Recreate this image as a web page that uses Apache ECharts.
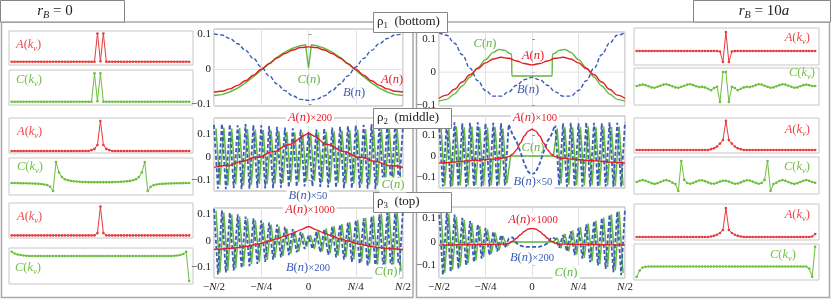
<!DOCTYPE html>
<html><head><meta charset="utf-8">
<script src="https://cdn.jsdelivr.net/npm/echarts@6/dist/echarts.min.js"></script>
<style>html,body{margin:0;padding:0;background:#fff}#c{width:831px;height:300px}</style>
</head><body><div id="c"></div>
<script>
const FONT = "'Liberation Serif','DejaVu Serif',serif";
const RED = '#e41e26', GREEN = '#62b840', BLUE = '#3b5cb8';
const KRED = '#e83a3a', KGREEN = '#6cbf3c';

// ---- categories / ticks ----
const xTickValues = [-48, -24, 0, 24, 48];
const xTickLabels = ['−N/2', '−N/4', '0', 'N/4', 'N/2'];
const yTickValues = [-0.1, 0, 0.1];
const yTickLabels = ['−0.1', '0', '0.1'];
const nStep4 = Array.from({length: 25}, (_, i) => -48 + 4 * i);
const nStep2 = Array.from({length: 49}, (_, i) => -48 + 2 * i);
const nOdd = Array.from({length: 48}, (_, i) => -47 + 2 * i);
const kIdx = Array.from({length: 61}, (_, i) => i);

// ---- row 1 (rho_1), r_B = 0 ----
const a1L = [-0.064,-0.062,-0.055,-0.045,-0.032,-0.016,0.001,0.017,0.033,0.046,0.056,0.063,0.065,0.063,0.056,0.046,0.033,0.017,0.001,-0.016,-0.032,-0.045,-0.055,-0.062,-0.064];
const b1L = [0.102,0.099,0.089,0.074,0.055,0.032,0.007,-0.018,-0.041,-0.060,-0.075,-0.085,-0.088,-0.085,-0.075,-0.060,-0.041,-0.018,0.007,0.032,0.055,0.074,0.089,0.099,0.102];
const c1Lx = [-48,-44,-40,-36,-32,-28,-24,-20,-16,-12,-8,-4,-1.5,0,1.5,4,8,12,16,20,24,28,32,36,40,44,48];
const c1Ly = [-0.074,-0.0715,-0.064,-0.053,-0.038,-0.020,-0.0015,0.017,0.035,0.050,0.061,0.0685,0.071,0.004,0.071,0.0685,0.061,0.050,0.035,0.017,-0.0015,-0.020,-0.038,-0.053,-0.064,-0.0715,-0.074];
// ---- row 1, r_B = 10a ----
const a1R = [-0.080,-0.070,-0.052,-0.030,-0.008,0.011,0.028,0.040,0.045,0.042,0.034,0.026,0.022,0.026,0.034,0.042,0.045,0.040,0.028,0.011,-0.008,-0.030,-0.052,-0.070,-0.080];
const b1R = [0.120,0.112,0.088,0.053,0.012,-0.026,-0.056,-0.073,-0.073,-0.060,-0.040,-0.023,-0.016,-0.023,-0.040,-0.060,-0.073,-0.073,-0.056,-0.026,0.012,0.053,0.088,0.112,0.120];
const c1Rx = [-48,-44,-40,-36,-32,-28,-24,-20,-17,-14,-11.5,-10.5,-10.4,0,10.4,10.5,11.5,14,17,20,24,28,32,36,40,44,48];
const c1Ry = [-0.088,-0.083,-0.066,-0.042,-0.015,0.013,0.038,0.060,0.069,0.066,0.057,0.054,-0.012,-0.012,-0.012,0.054,0.057,0.066,0.069,0.060,0.038,0.013,-0.015,-0.042,-0.066,-0.083,-0.088];

// ---- row 2 (rho_2) ----
const a2L = [-0.045,-0.038,-0.037,-0.022,-0.016,-0.002,0.000,0.020,0.027,0.050,0.058,0.086,0.104,0.086,0.058,0.050,0.027,0.020,0.000,-0.002,-0.016,-0.022,-0.037,-0.038,-0.045];
const b2L = [0.140,-0.138,0.145,-0.140,0.142,-0.136,0.138,-0.140,0.144,-0.138,0.140,-0.135,0.138,-0.137,0.135,-0.136,0.132,-0.134,0.128,-0.132,0.125,-0.130,0.120,-0.128,0.110,-0.128,0.120,-0.130,0.125,-0.132,0.128,-0.134,0.132,-0.136,0.135,-0.137,0.138,-0.135,0.140,-0.138,0.144,-0.140,0.138,-0.136,0.142,-0.140,0.145,-0.138,0.140];
const c2L = [0.125,-0.122,0.128,-0.125,0.124,-0.12,0.126,-0.124,0.122,-0.12,0.12,-0.118,0.118,-0.116,0.115,-0.115,0.112,-0.112,0.11,-0.11,0.108,-0.108,0.105,-0.105,0.105,-0.105,0.108,-0.108,0.11,-0.11,0.112,-0.112,0.115,-0.115,0.118,-0.116,0.12,-0.118,0.122,-0.12,0.126,-0.124,0.124,-0.12,0.128,-0.125,0.125,-0.122];
const a2R = [-0.034,-0.032,-0.032,-0.029,-0.029,-0.026,-0.026,-0.023,-0.023,-0.020,-0.021,-0.018,-0.018,-0.015,-0.015,-0.012,-0.011,-0.008,-0.003,0.008,0.030,0.062,0.095,0.118,0.127,0.118,0.095,0.062,0.030,0.008,-0.003,-0.008,-0.011,-0.012,-0.015,-0.015,-0.018,-0.018,-0.021,-0.020,-0.023,-0.023,-0.026,-0.026,-0.029,-0.029,-0.032,-0.032,-0.034];
const b2R = [0.16,-0.145,0.158,-0.146,0.16,-0.145,0.155,-0.146,0.158,-0.145,0.16,-0.146,0.155,-0.145,0.158,-0.146,0.155,-0.14,0.15,0.10,0.07,0.02,-0.035,-0.075,-0.09,-0.075,-0.035,0.02,0.07,0.10,0.15,-0.14,0.155,-0.146,0.158,-0.145,0.155,-0.146,0.16,-0.145,0.158,-0.146,0.155,-0.145,0.16,-0.146,0.158,-0.145,0.16];
const c2R = [0.14,-0.14,0.138,-0.142,0.14,-0.14,0.136,-0.14,0.14,-0.138,0.138,-0.14,0.135,-0.138,0.136,-0.136,0.13,-0.13,0,0,0,0,0,0,0,0,0,0,0,0,0.13,-0.13,0.136,-0.136,0.135,-0.138,0.138,-0.14,0.14,-0.138,0.136,-0.14,0.14,-0.14,0.138,-0.142,0.14,-0.14];

// ---- row 3 (rho_3) ----
const a3L = [-0.032,-0.030,-0.028,-0.025,-0.021,-0.015,-0.009,0.000,0.008,0.019,0.030,0.042,0.055,0.042,0.030,0.019,0.008,0.000,-0.009,-0.015,-0.021,-0.025,-0.028,-0.030,-0.032];
const b3L = [0.122,-0.127,0.116,-0.119,0.108,-0.111,0.101,-0.103,0.093,-0.095,0.086,-0.087,0.078,-0.079,0.070,-0.071,0.062,-0.062,0.054,-0.053,0.045,-0.043,0.034,-0.030,0.020,-0.030,0.034,-0.043,0.045,-0.053,0.054,-0.062,0.062,-0.071,0.070,-0.079,0.078,-0.087,0.086,-0.095,0.093,-0.103,0.101,-0.111,0.108,-0.119,0.116,-0.127,0.122];
const c3L = [0.115,-0.120,0.108,-0.112,0.100,-0.104,0.093,-0.096,0.085,-0.088,0.078,-0.080,0.070,-0.072,0.062,-0.064,0.055,-0.056,0.047,-0.048,0.038,-0.040,0.030,-0.022,0.022,-0.030,0.040,-0.038,0.048,-0.047,0.056,-0.055,0.064,-0.062,0.072,-0.070,0.080,-0.078,0.088,-0.085,0.096,-0.093,0.104,-0.100,0.112,-0.108,0.120,-0.115];
const a3R = [-0.013,-0.012,-0.013,-0.012,-0.012,-0.011,-0.012,-0.011,-0.011,-0.010,-0.011,-0.010,-0.010,-0.010,-0.010,-0.009,-0.009,-0.009,-0.005,0.004,0.016,0.031,0.045,0.055,0.058,0.055,0.045,0.031,0.016,0.004,-0.005,-0.009,-0.009,-0.009,-0.010,-0.010,-0.010,-0.010,-0.011,-0.010,-0.011,-0.011,-0.012,-0.011,-0.012,-0.012,-0.013,-0.012,-0.013];
const b3R = [0.142,-0.141,0.130,-0.128,0.117,-0.114,0.103,-0.100,0.089,-0.086,0.075,-0.071,0.060,-0.056,0.045,-0.040,0.030,-0.024,0.015,0.020,-0.005,-0.015,-0.020,-0.021,-0.021,-0.021,-0.020,-0.015,-0.005,0.020,0.015,-0.024,0.030,-0.040,0.045,-0.056,0.060,-0.071,0.075,-0.086,0.089,-0.100,0.103,-0.114,0.117,-0.128,0.130,-0.141,0.142];
const c3R = [0.132,-0.130,0.120,-0.118,0.107,-0.104,0.094,-0.091,0.081,-0.078,0.068,-0.064,0.054,-0.050,0.040,-0.035,0.026,-0.018,0,0,0,0,0,0,0,0,0,0,0,0,0.018,-0.026,0.035,-0.040,0.050,-0.054,0.064,-0.068,0.078,-0.081,0.091,-0.094,0.104,-0.107,0.118,-0.120,0.130,-0.132];

// ---- small k-space panels (61 points each) ----
const kA1L = [0,0,0,0,0,0,0,0,0,0, 0,0,0,0,0,0,0,0,0,0, 0,0,0,0,0,0,0,0,0,1, 0.02,1,0,0,0,0,0,0,0,0, 0,0,0,0,0,0,0,0,0,0, 0,0,0,0,0,0,0,0,0,0, 0];
const kC1L = [0,0,0,0,0,0,0,0,0,0, 0,0,0,0,0,0,0,0,0,0, 0,0,0,0,0,0,0,0,1,0.02, 1,0,0,0,0,0,0,0,0,0, 0,0,0,0,0,0,0,0,0,0, 0,0,0,0,0,0,0,0,0,0, 0];
const kA1R = [0,0,0,0,0,0,0,0,0,0, 0,0,0,0,0,0,0,0,0,0, 0,0,0,0,0,0,0,0,-0.03,-0.58, 1,-0.58,-0.03,0,0,0,0,0,0,0, 0,0,0,0,0,0,0,0,0,0, 0,0,0,0,0,0,0,0,0,0, 0];
const kC1R = [0,0.06,0.1,0.06,-0.02,-0.1,-0.12,-0.06,0.02,0.1, 0.12,0.06,-0.02,-0.1,-0.12,-0.06,0.02,0.1,0.12,0.06, -0.02,-0.08,-0.06,-0.1,-0.2,-0.3,-0.15,-0.05,-1.14,1, 1,-1.14,-0.05,-0.15,-0.3,-0.2,-0.1,-0.06,-0.08,-0.02, 0.06,0.12,0.1,0.02,-0.06,-0.12,-0.1,-0.02,0.06,0.12, 0.1,0.02,-0.06,-0.12,-0.1,-0.02,0.06,0.1,0.06,0, 0];
const kA2L = [0,0,0,0,0,0,0,0,0,0, 0,0,0,0,0,0,0,0,0,0, 0,0,0,0,0,0,0,0.03,0.07,0.2, 1,0.2,0.07,0.03,0,0,0,0,0,0, 0,0,0,0,0,0,0,0,0,0, 0,0,0,0,0,0,0,0,0,0, 0];
const kC2L = [0,0,-0.005,-0.01,-0.01,-0.015,-0.02,-0.025,-0.03,-0.04, -0.05,-0.07,-0.1,-0.18,-0.38,1,0.5,0.28,0.18,0.13, 0.1,0.08,0.07,0.06,0.05,0.05,0.04,0.04,0.04,0.04, 0.04, 0.04,0.04,0.04,0.04,0.05,0.05,0.06,0.07,0.08,0.1, 0.13,0.18,0.28,0.5,1,-0.38,-0.18,-0.1,-0.07,-0.05, -0.04,-0.03,-0.025,-0.02,-0.015,-0.01,-0.01,-0.005,0,0];
const kA2R = [0,0,0,0,0,0,0,0,0,0, 0,0,0,0,0,0,0,0,0,0, 0,0,0,0,0,0.03,0.06,0.12,0.22,0.34, 1,0.34,0.22,0.12,0.06,0.03,0,0,0,0, 0,0,0,0,0,0,0,0,0,0, 0,0,0,0,0,0,0,0,0,0, 0];
const kC2R = [0,0.06,0.09,0.06,0,-0.06,-0.09,-0.06,0,0.06, 0.09,0.05,-0.03,-0.1,-0.43,1,0.1,-0.05,-0.08,-0.04, 0.02,0.07,0.08,0.04,-0.02,-0.07,-0.08,-0.04,0.02,0.06, 0.06,0.02,-0.04,-0.08,-0.07,-0.02,0.04,0.08,0.07,0.02, -0.04,-0.08,-0.05,0.1,1,-0.43,-0.1,-0.03,0.05,0.09, 0.06,0,-0.06,-0.09,-0.06,0,0.06,0.09,0.06,0, -0.04];
const kA3L = [0,0,0,0,0,0,0,0,0,0, 0,0,0,0,0,0,0,0,0,0, 0,0,0,0,0,0,0,0,0,0.08, 1,0.08,0,0,0,0,0,0,0,0, 0,0,0,0,0,0,0,0,0,0, 0,0,0,0,0,0,0,0,0,0, 0];
const kC3L = [0.17,0.1,0.06,0.04,0.02,0.01,0,0,0,0, 0,0,0,0,0,0,0,0,0,0, 0,0,0,0,0,0,0,0,0,0, 0,0,0,0,0,0,0,0,0,0, 0,0,0,0,0,0,0,0,0,0, 0,0,0,0,0,0.01,0.02,0.04,0.08,0.17, -1];
const kA3R = [0,0,0,0,0,0,0,0,0,0, 0,0,0,0,0,0,0,0,0,0, 0,0,0,0,0,0.02,0.04,0.08,0.14,0.24, 1,0.24,0.14,0.08,0.04,0.02,0,0,0,0, 0,0,0,0,0,0,0,0,0,0, 0,0,0,0,0,0,0,0,0,0.02, 0.1];
const kC3R = [-0.52,-0.2,-0.05,-0.01,0,0,0,0,0,0, 0,0,0,0,0,0,0,0,0,0, 0,0,0,0,0,0,0,0,0,0, 0,0,0,0,0,0,0,0,0,0, 0,0,0,0,0,0,0,0,0,0, 0,0,0,0,0,0,0,0,-0.1,-0.52, 1];

// ================= build =================
const zip = (xs, ys) => ys.map((v, i) => [xs[i], v]);
const grids = [], xAxes = [], yAxes = [], series = [];

function addCentral(p) {
  const gi = grids.length;
  grids.push({left: p.box[0], top: p.box[1], width: p.box[2], height: p.box[3], show: true,
    borderColor: '#b0b0b0', borderWidth: 1, backgroundColor: 'rgba(0,0,0,0)'});
  xAxes.push({type: 'value', gridIndex: gi, min: -48, max: 48, interval: 24,
    axisLine: {show: false}, axisTick: {show: false},
    splitLine: {show: true, lineStyle: {color: '#e3e3e3', width: 1}},
    axisLabel: {show: !!p.xlab, margin: 4, fontFamily: FONT, fontSize: 11, color: '#222',
      formatter: v => { const i = xTickValues.indexOf(v); return i < 0 ? '' : xTickLabels[i].replace('N', '{b|N}'); },
      rich: {b: {fontFamily: FONT, fontSize: 11, fontStyle: 'italic', color: '#222'}}}});
  yAxes.push({type: 'value', gridIndex: gi, min: p.y[0], max: p.y[1],
    axisLine: {show: false}, splitLine: {show: false},
    axisTick: {show: true, inside: true, length: 3, customValues: yTickValues, lineStyle: {color: '#999'}},
    axisLabel: {customValues: yTickValues, margin: p.lm, fontFamily: FONT, fontSize: 11, color: '#222',
      formatter: v => { const i = yTickValues.findIndex(t => Math.abs(t - v) < 1e-9); return i < 0 ? '' : yTickLabels[i]; }}});
  // faint zero line under the curves
  series.push({type: 'line', xAxisIndex: gi, yAxisIndex: gi, data: [[-48, 0], [48, 0]], symbol: 'none', silent: true,
    animation: false, lineStyle: {color: '#e3e3e3', width: 1}, z: 1});
  p.series.forEach((s, si) => {
    series.push({type: 'line', xAxisIndex: gi, yAxisIndex: gi, data: zip(s.x, s.y), symbol: 'none',
      showSymbol: false, silent: true, animation: false, smooth: s.smooth || false, smoothMonotone: 'x',
      lineStyle: {color: s.c, width: s.w || 1.4, type: s.dash ? [4, 2.2] : 'solid'}, z: 2 + si});
  });
}

function addSmall(p) {
  const gi = grids.length;
  grids.push({left: p.box[0], top: p.box[1], width: p.box[2], height: p.box[3], show: true,
    borderColor: '#c6c6c6', borderWidth: 1, backgroundColor: 'rgba(0,0,0,0)'});
  xAxes.push({type: 'value', gridIndex: gi, min: -0.9, max: 61.3, show: false, splitLine: {show: false}});
  yAxes.push({type: 'value', gridIndex: gi, min: p.y[0], max: p.y[1], show: false, splitLine: {show: false}});
  series.push({type: 'line', xAxisIndex: gi, yAxisIndex: gi, data: zip(kIdx, p.d), symbol: 'circle', symbolSize: 2.6,
    showSymbol: true, silent: true, animation: false, itemStyle: {color: p.c}, lineStyle: {color: p.c, width: 1}, z: 3});
}

// central plots
addCentral({box: [214, 29, 189, 77], y: [-0.104, 0.116], lm: 3, series: [
  {x: c1Lx, y: c1Ly, c: GREEN}, {x: nStep4, y: b1L, c: BLUE, dash: true, smooth: 0.4}, {x: nStep4, y: a1L, c: RED, smooth: 0.4}]});
addCentral({box: [439, 32, 186, 74], y: [-0.103, 0.122], lm: 3, series: [
  {x: c1Rx, y: c1Ry, c: GREEN, smooth: 0.3}, {x: nStep4, y: b1R, c: BLUE, dash: true, smooth: 0.4}, {x: nStep4, y: a1R, c: RED, smooth: 0.4}]});
addCentral({box: [214, 118, 189, 73], y: [-0.148, 0.17], lm: 3, series: [
  {x: nOdd, y: c2L, c: GREEN, w: 1.5}, {x: nStep2, y: b2L, c: BLUE, dash: true, w: 1.8}, {x: nStep4, y: a2L, c: RED, w: 1.4}]});
addCentral({box: [439, 116, 186, 72], y: [-0.152, 0.19], lm: 3, series: [
  {x: nOdd, y: c2R, c: GREEN, w: 1.5}, {x: nStep2, y: b2R, c: BLUE, dash: true, w: 1.8}, {x: nStep2, y: a2R, c: RED, w: 1.4, smooth: 0.3}]});
addCentral({box: [214, 208, 189, 70], y: [-0.14, 0.125], lm: 3, xlab: true, series: [
  {x: nOdd, y: c3L, c: GREEN, w: 1.5}, {x: nStep2, y: b3L, c: BLUE, dash: true, w: 1.8}, {x: nStep4, y: a3L, c: RED, w: 1.4, smooth: 0.3}]});
addCentral({box: [439, 207, 186, 71], y: [-0.153, 0.149], lm: 3, xlab: true, series: [
  {x: nOdd, y: c3R, c: GREEN, w: 1.5}, {x: nStep2, y: b3R, c: BLUE, dash: true, w: 1.8}, {x: nStep2, y: a3R, c: RED, w: 1.4, smooth: 0.3}]});

// small panels
addSmall({box: [9, 31, 184, 34], y: [-0.116, 1.09], d: kA1L, c: KRED});
addSmall({box: [9, 70, 184, 35], y: [-0.116, 1.116], d: kC1L, c: KGREEN});
addSmall({box: [634, 28, 185, 37], y: [-0.737, 1.21], d: kA1R, c: KRED});
addSmall({box: [634, 68, 185, 37], y: [-1.357, 1.286], d: kC1R, c: KGREEN});
addSmall({box: [9, 118, 184, 35], y: [-0.067, 1.1], d: kA2L, c: KRED});
addSmall({box: [9, 158, 184, 37], y: [-0.571, 1.19], d: kC2L, c: KGREEN});
addSmall({box: [634, 118, 185, 35], y: [-0.103, 1.1], d: kA2R, c: KRED});
addSmall({box: [634, 157, 185, 37], y: [-0.571, 1.19], d: kC2R, c: KGREEN});
addSmall({box: [9, 203, 184, 35], y: [-0.09, 1.12], d: kA3L, c: KRED});
addSmall({box: [9, 248, 184, 36], y: [-1.12, 0.32], d: kC3L, c: KGREEN});
addSmall({box: [634, 204, 185, 36], y: [-0.103, 1.14], d: kA3R, c: KRED});
addSmall({box: [634, 244, 185, 36], y: [-0.68, 1.14], d: kC3R, c: KGREEN});

// ---- text helpers ----
const ctx = document.createElement('canvas').getContext('2d');
function fontStr(it, size) { return (it ? 'italic ' : '') + size + 'px ' + FONT; }
function label(parts, x, y, align, color, size, bg, out) {
  const items = parts.map(p => {
    const sz = p.sub ? size * 0.68 : p.small ? size * 0.85 : size;
    ctx.font = fontStr(p.it, sz);
    return {p, sz, w: ctx.measureText(p.t).width};
  });
  const total = items.reduce((a, b) => a + b.w, 0);
  let cx = align === 'center' ? x - total / 2 : align === 'right' ? x - total : x;
  if (bg) out.push({type: 'rect', shape: {x: cx - 2, y: y - size * 0.6, width: total + 4, height: size * 1.2}, style: {fill: '#fff'}, z: 118});
  items.forEach(it => {
    out.push({type: 'text', x: cx, y: y + (it.p.sub ? size * 0.3 : 0), z: 125,
      style: {text: it.p.t, font: fontStr(it.p.it, it.sz), fill: it.p.color || color,
        textAlign: 'left', align: 'left', textVerticalAlign: 'middle', verticalAlign: 'middle'}});
    cx += it.w;
  });
}
const fn = L => [{t: L, it: true}, {t: '('}, {t: 'n', it: true}, {t: ')'}];
const fk = L => [{t: L, it: true}, {t: '('}, {t: 'k', it: true}, {t: 'ν', it: true, sub: true}, {t: ')'}];
const mul = (L, m) => fn(L).concat([{t: '×' + m, small: true}]);

const graphics = [];
// frames
graphics.push({type: 'rect', shape: {x: 1.5, y: 22, width: 411.5, height: 275.5}, style: {fill: 'none', stroke: '#a8a8a8', lineWidth: 1.5}, z: 50});
graphics.push({type: 'rect', shape: {x: 416.5, y: 22, width: 413, height: 275.5}, style: {fill: 'none', stroke: '#a8a8a8', lineWidth: 1.5}, z: 50});
// title boxes
const boxStyle = {fill: '#fff', stroke: '#858585', lineWidth: 1};
graphics.push({type: 'rect', shape: {x: 0.5, y: 0.5, width: 124, height: 21.5}, style: boxStyle, z: 110});
graphics.push({type: 'rect', shape: {x: 693.5, y: 0.5, width: 137, height: 21.5}, style: boxStyle, z: 110});
graphics.push({type: 'rect', shape: {x: 373.5, y: 12.5, width: 74, height: 20}, style: boxStyle, z: 110});
graphics.push({type: 'rect', shape: {x: 373.5, y: 108.5, width: 78, height: 20}, style: boxStyle, z: 110});
graphics.push({type: 'rect', shape: {x: 373.5, y: 192.5, width: 78, height: 20}, style: boxStyle, z: 110});
label([{t: 'r', it: true}, {t: 'B', it: true, sub: true}, {t: ' = 0'}], 55, 11, 'center', '#222', 15, false, graphics);
label([{t: 'r', it: true}, {t: 'B', it: true, sub: true}, {t: ' = 10'}, {t: 'a', it: true}], 764, 11, 'center', '#222', 15, false, graphics);
label([{t: 'ρ'}, {t: '1', sub: true}, {t: '  (bottom)'}], 377, 22, 'left', '#222', 13, false, graphics);
label([{t: 'ρ'}, {t: '2', sub: true}, {t: '  (middle)'}], 377, 118, 'left', '#222', 13, false, graphics);
label([{t: 'ρ'}, {t: '3', sub: true}, {t: '  (top)'}], 377, 202, 'left', '#222', 13, false, graphics);

// central curve labels
[
  [fn('C'), 309, 80, GREEN, false], [fn('A'), 392, 80, RED, false], [fn('B'), 354, 93, BLUE, false],
  [fn('C'), 485, 44, GREEN, false], [fn('A'), 533, 56, RED, false], [fn('B'), 528, 90, BLUE, false],
  [mul('A', 200), 310, 118, RED, true], [mul('B', 50), 308, 196, BLUE, true], [fn('C'), 393, 185, GREEN, true],
  [mul('A', 100), 535, 118, RED, true], [fn('C'), 533, 148, GREEN, false], [mul('B', 50), 533, 182, BLUE, true],
  [mul('A', 1000), 310, 210, RED, true], [mul('B', 200), 308, 268, BLUE, true], [fn('C'), 386, 272, GREEN, true],
  [mul('A', 1000), 533, 220, RED, true], [mul('B', 200), 532, 258, BLUE, true], [fn('C'), 566, 273, GREEN, true]
].forEach(l => label(l[0], l[1], l[2], 'center', l[3], 12.5, l[4], graphics));

// small-panel labels
const LR = '#ef4848', LG = '#72c244';
[
  [fk('A'), 16, 45, 'left', LR], [fk('C'), 16, 80, 'left', LG],
  [fk('A'), 17, 132, 'left', LR], [fk('C'), 17, 167, 'left', LG],
  [fk('A'), 17, 217, 'left', LR], [fk('C'), 15, 268, 'left', LG],
  [fk('A'), 810, 38, 'right', LR], [fk('C'), 815, 73, 'right', LG],
  [fk('A'), 810, 130, 'right', LR], [fk('C'), 810, 167, 'right', LG],
  [fk('A'), 810, 215, 'right', LR], [fk('C'), 796, 255, 'right', LG]
].forEach(l => label(l[0], l[1], l[2], l[3], l[4], 12.5, false, graphics));

const chart = echarts.init(document.getElementById('c'), null, {renderer: 'canvas', width: 831, height: 300});
chart.setOption({animation: false, backgroundColor: '#fff', grid: grids, xAxis: xAxes, yAxis: yAxes, series, graphic: {elements: graphics}});
</script></body></html>
